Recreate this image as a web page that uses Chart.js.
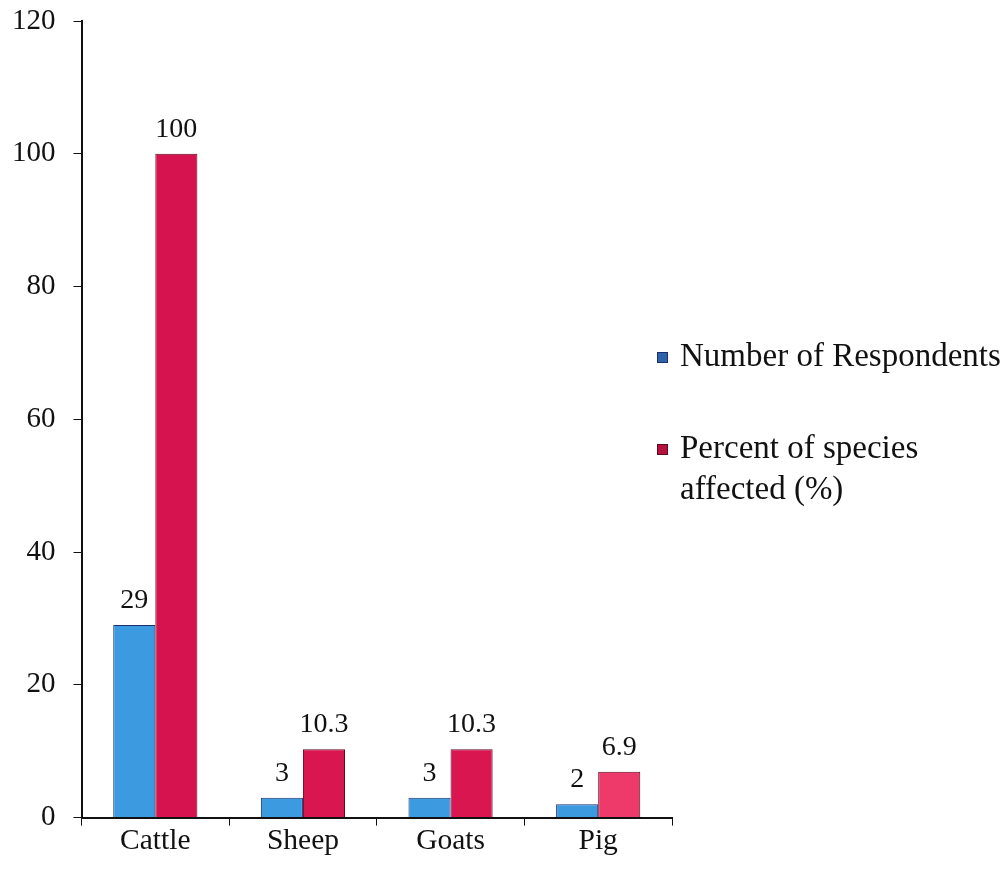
<!DOCTYPE html>
<html>
<head>
<meta charset="utf-8">
<script src="https://cdn.jsdelivr.net/npm/chart.js@4/dist/chart.umd.min.js"></script>
<style>
  html, body { margin: 0; padding: 0; background: #fff; }
  #wrap { width: 1006px; height: 877px; position: relative; }
</style>
</head>
<body>
<div id="wrap"><canvas id="chart"></canvas></div>
<script>
const categories = ['Cattle', 'Sheep', 'Goats', 'Pig']
const respondents = [29, 3, 3, 2]
const percentAffected = [100, 10.3, 10.3, 6.9]
const respondentLabels = ['29', '3', '3', '2']
const percentLabels = ['100', '10.3', '10.3', '6.9']
const seriesNames = ['Number of Respondents', ['Percent of species', 'affected (%)']]

const FONT = '"Liberation Serif", "Times New Roman", serif'

// value labels above each bar
const valueLabels = {
  id: 'valueLabels',
  afterDatasetsDraw(chart) {
    const ctx = chart.ctx
    ctx.save()
    ctx.font = '28px ' + FONT
    ctx.fillStyle = '#111'
    ctx.textAlign = 'center'
    ctx.textBaseline = 'alphabetic'
    chart.data.datasets.forEach((ds, i) => {
      const meta = chart.getDatasetMeta(i)
      meta.data.forEach((bar, j) => {
        ctx.fillText(ds.valueText[j], bar.x, bar.y - 17)
      })
    })
    ctx.restore()
  }
}

// legend on the right, with a wrapped second entry
const sideLegend = {
  id: 'sideLegend',
  afterDraw(chart) {
    const ctx = chart.ctx
    const x = chart.chartArea.right - 15
    const rows = [357, 449]
    ctx.save()
    ctx.font = '33px ' + FONT
    ctx.textBaseline = 'middle'
    ctx.textAlign = 'left'
    chart.data.datasets.forEach((ds, i) => {
      const y = rows[i]
      ctx.fillStyle = ds.legendColor
      ctx.strokeStyle = ds.borderColor
      ctx.lineWidth = 1
      ctx.fillRect(x, y - 5, 11, 11)
      ctx.strokeRect(x + 0.5, y - 4.5, 10, 10)
      ctx.fillStyle = '#111'
      const lines = [].concat(seriesNames[i])
      lines.forEach((t, k) => ctx.fillText(t, x + 23, y + k * 41))
    })
    ctx.restore()
  }
}

new Chart(document.getElementById('chart'), {
  type: 'bar',
  data: {
    labels: categories,
    datasets: [{
      label: 'Number of Respondents',
      data: respondents,
      valueText: respondentLabels,
      backgroundColor: '#3c9be0',
      borderColor: '#1b2f6e',
      legendColor: '#2f63a8',
      borderWidth: 1,
      categoryPercentage: 0.57,
      barPercentage: 1.0
    }, {
      label: 'Percent of species affected (%)',
      data: percentAffected,
      valueText: percentLabels,
      backgroundColor: ['#d6134f', '#d9164f', '#d9164f', '#ee3a6a'],
      borderColor: '#5c0a20',
      legendColor: '#b8103d',
      borderWidth: 1,
      categoryPercentage: 0.57,
      barPercentage: 1.0
    }]
  },
  options: {
    responsive: true,
    maintainAspectRatio: false,
    animation: false,
    layout: { padding: { top: 21, right: 334, bottom: 20, left: -6 } },
    plugins: {
      legend: { display: false },
      tooltip: { enabled: false }
    },
    scales: {
      x: {
        grid: { drawOnChartArea: false, tickLength: 8, tickColor: '#111', offset: true },
        border: { color: '#111', width: 2 },
        ticks: { color: '#111', font: { family: FONT, size: 29.5 }, padding: -2 }
      },
      y: {
        min: 0,
        max: 120,
        grid: { drawOnChartArea: false, tickLength: 8, tickColor: '#111' },
        border: { color: '#111', width: 2 },
        ticks: { stepSize: 20, color: '#111', font: { family: FONT, size: 29 }, padding: 18 },
        afterFit(scale) { scale.paddingTop = 0; scale.paddingBottom = 0 }
      }
    }
  },
  plugins: [valueLabels, sideLegend]
})
</script>
</body>
</html>
